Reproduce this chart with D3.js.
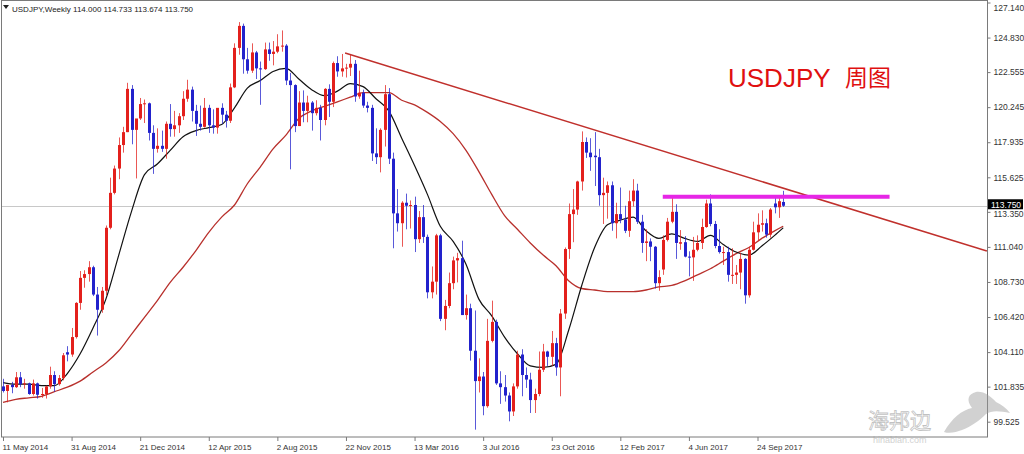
<!DOCTYPE html>
<html><head><meta charset="utf-8">
<script src="https://cdn.jsdelivr.net/npm/d3@7"></script>
<style>html,body{margin:0;padding:0;background:#fff;}svg{display:block;}</style>
</head><body>
<svg id="c" width="1024" height="454"></svg>
<script>
// ---------------- DATA ----------------
const symbolTitle = "USDJPY,Weekly";
const lastQuote = ["114.000","114.733","113.674","113.750"];
const chartLabel = "USDJPY";
const chartLabelCn = "周图";
const priceTicks = [127.140,124.830,122.555,120.245,117.935,115.625,113.350,111.040,108.730,106.420,104.110,101.835,99.525];
const dateTickWeeks = [0,16,32,48,64,80,96,112,128,144,160,176];
const dateTickLabels = ["11 May 2014","31 Aug 2014","21 Dec 2014","12 Apr 2015","2 Aug 2015","22 Nov 2015","13 Mar 2016","3 Jul 2016","23 Oct 2016","12 Feb 2017","4 Jun 2017","24 Sep 2017"];
// weekly candles [open, high, low, close], week 0 = 11 May 2014
const candles = [
[101.85,102.35,101.45,101.55],[101.55,101.95,100.80,101.95],[101.95,102.15,101.40,101.80],[101.80,102.80,101.75,102.45],
[102.45,102.80,101.80,102.00],[102.00,102.35,101.70,102.05],[102.05,102.10,101.30,101.35],[101.35,102.30,101.25,102.05],
[102.05,102.10,101.05,101.30],[101.30,101.75,101.10,101.35],[101.35,101.90,101.05,101.85],[101.85,103.15,101.70,102.60],
[102.60,102.85,101.50,102.00],[102.00,102.60,101.90,102.40],[102.40,104.05,102.25,103.90],[104.10,104.50,103.50,103.95],
[103.95,105.70,103.80,105.10],[105.10,107.40,105.00,107.35],[107.35,109.45,106.90,109.00],[109.00,109.50,108.35,109.25],
[109.25,110.10,108.75,109.70],[109.70,109.80,107.80,107.90],[107.90,108.40,105.20,106.90],[106.90,108.40,106.70,108.15],
[108.15,112.45,107.85,112.30],[112.30,115.60,112.20,114.60],[114.60,116.40,114.50,116.20],[116.20,118.25,115.50,117.75],
[117.75,118.95,117.25,118.60],[118.60,121.85,118.60,121.45],[121.45,121.70,117.80,118.75],[118.75,119.35,115.55,119.50],
[119.50,120.85,119.40,120.45],[120.45,120.75,119.20,120.50],
[120.50,120.55,118.05,118.55],[118.55,119.05,115.85,117.50],[117.50,118.85,117.25,117.70],[117.70,118.70,117.30,117.50],
[117.50,119.30,116.85,119.15],[119.15,120.45,118.30,118.80],[118.80,120.00,118.30,119.05],[119.05,119.85,118.55,119.65],
[119.65,121.30,119.40,120.80],[120.80,122.05,120.60,121.40],[121.40,121.60,119.30,120.00],[120.00,120.40,118.35,119.15],
[119.15,120.35,118.70,118.95],[118.95,120.85,118.90,120.20],[120.20,120.40,118.55,119.05],[119.05,120.10,118.50,118.90],
[118.90,120.10,118.50,120.20],[120.20,120.50,119.15,119.75],[119.75,120.00,118.90,119.35],[119.35,121.80,119.20,121.55],
[121.55,124.45,121.50,124.15],[124.15,125.85,123.70,125.60],[125.60,125.75,122.45,123.40],[123.40,124.15,122.45,122.65],
[122.65,124.45,122.50,123.85],[123.85,123.95,122.10,122.80],[122.80,123.25,120.40,122.75],[122.75,124.50,122.70,124.05],
[124.05,124.50,123.30,123.75],[123.75,124.60,123.00,123.90],[123.90,125.05,123.80,124.25],[124.25,125.30,123.90,124.30],
[124.30,124.40,121.70,122.00],[122.00,122.50,116.15,121.70],[121.70,121.75,118.60,119.00],[119.00,121.30,119.00,120.55],
[120.55,121.35,119.25,120.00],[120.00,121.00,119.25,120.55],[120.55,120.65,118.70,119.85],[119.85,120.70,119.70,120.20],
[120.20,120.40,118.05,119.40],[119.40,121.50,119.05,121.45],[121.45,121.75,119.60,120.60],[120.60,123.25,120.25,123.15],
[123.15,123.60,122.25,122.60],[122.60,123.75,122.25,122.80],[122.80,123.10,122.20,122.85],[122.85,123.70,122.30,123.10],
[123.10,123.35,120.60,120.95],[120.95,122.65,120.80,121.20],[121.20,121.40,120.20,120.35],[120.35,120.60,119.90,120.20],
[120.20,120.40,116.70,117.20],[117.20,118.85,116.50,116.95],[116.95,118.85,115.95,118.75],[118.75,121.70,117.65,121.10],
[121.10,121.50,116.50,116.85],[116.85,117.25,110.95,113.25],[113.25,114.85,112.05,112.60],[112.60,114.05,111.05,113.95],
[113.95,114.55,112.20,113.75],[113.75,114.10,112.25,113.80],[113.80,114.35,110.70,111.55],[111.55,113.40,111.30,113.00],
[113.00,113.80,111.30,111.70],[111.70,111.85,107.65,108.05],[108.05,109.75,107.65,108.75],[108.75,111.90,107.90,111.80],
[111.80,111.90,106.15,106.30],[106.30,107.55,105.55,107.15],[107.15,109.35,107.00,108.65],[108.65,110.40,108.25,110.15],
[110.15,110.65,108.70,110.30],[110.30,111.45,106.55,106.55],[106.55,107.90,106.25,107.00],[107.00,107.30,103.55,104.20],
[104.20,106.85,99.00,102.20],[102.20,103.70,101.45,102.50],[102.50,102.80,99.95,100.55],[100.55,106.30,100.45,104.85],
[104.85,107.50,104.75,106.10],[106.10,106.25,101.95,102.05],[102.05,102.85,100.70,101.80],[101.80,102.60,100.85,101.25],
[101.25,101.45,99.55,100.20],[100.20,102.05,99.90,101.85],[101.85,104.20,101.70,103.95],[103.95,104.30,101.20,102.60],
[102.60,103.10,101.75,102.30],[102.30,102.75,100.10,100.95],[100.95,101.70,100.10,101.35],[101.35,104.15,101.20,102.95],
[102.95,104.65,102.80,104.15],[104.15,104.20,103.20,103.80],[103.80,105.50,103.20,104.70],[104.70,105.05,102.55,103.10],
[103.10,106.95,101.20,106.65],[106.65,111.00,106.30,110.90],[110.90,113.90,110.25,113.20],[113.20,114.85,111.35,113.50],
[113.50,115.40,113.15,115.35],[115.35,118.65,114.75,117.95],[117.95,118.25,116.90,117.25],[117.25,118.20,116.05,116.95],
[117.05,118.60,115.05,116.95],[116.95,117.50,113.75,114.45],[114.45,115.60,112.55,114.60],[114.60,115.35,112.90,115.10],
[115.10,115.35,112.10,112.60],[112.60,113.95,111.60,113.20],[113.20,114.95,112.60,112.85],[112.85,113.75,111.95,112.10],
[112.10,114.75,111.70,114.05],[114.05,115.50,113.70,114.75],[114.75,115.20,112.55,112.70],[112.70,113.15,110.65,111.30],
[111.30,112.20,110.10,111.40],[111.40,111.60,110.10,111.05],[111.05,111.10,108.30,108.65],[108.65,109.50,108.15,109.05],
[109.55,111.80,109.20,111.50],[111.50,112.95,111.40,112.70],[112.70,114.35,112.60,113.35],[113.35,113.85,110.25,111.30],
[111.25,112.15,110.85,111.35],[111.35,111.75,110.35,110.40],[110.40,110.75,109.10,110.35],[110.35,111.70,108.80,110.85],
[110.85,111.80,110.75,111.30],[111.30,112.90,110.90,112.35],[112.35,114.15,112.30,113.90],[113.90,114.50,112.40,112.55],
[112.55,112.75,110.95,111.10],[111.10,112.20,110.60,110.70],[110.65,111.05,109.85,110.70],[110.70,111.05,108.75,109.20],
[109.15,110.95,108.60,109.20],[109.20,109.85,108.60,109.35],[109.35,110.65,108.25,110.25],[110.25,110.30,107.30,107.85],
[107.85,111.05,107.70,110.85],[110.85,112.70,110.80,112.00],[112.00,113.25,111.45,112.50],[112.50,113.45,112.05,112.60],
[112.60,112.90,111.65,111.85],[111.85,113.60,111.65,113.50],[113.90,114.45,113.25,113.65],[113.65,114.30,112.95,114.05],
[114.000,114.733,113.674,113.750]
];
const maWeeks = [0,3,6,9,12,15,18,21,24,27,30,33,36,39,42,45,48,51,54,57,60,63,66,69,72,75,78,81,84,87,90,93,96,99,102,105,108,111,114,117,120,123,126,129,132,135,138,141,144,147,150,153,156,159,162,165,168,171,174,177,180,182];
const maFast = [102.1,102.0,102.0,101.9,101.9,102.7,104.0,105.7,107.6,110.5,113.4,115.8,116.5,117.4,118.3,118.7,118.9,119.1,120.2,121.5,122.0,122.6,122.8,122.1,121.4,121.0,121.3,121.8,121.6,120.8,120.0,118.2,116.4,114.5,112.4,111.4,109.9,107.6,106.5,105.1,104.0,103.2,103.1,103.3,105.6,108.5,111.0,112.5,112.8,113.0,112.1,111.6,111.9,111.6,111.4,111.8,111.2,110.7,110.5,111.1,111.8,112.3];
const maSlow = [100.8,101.0,101.1,101.2,101.5,101.8,102.2,102.8,103.4,104.2,105.3,106.4,107.5,108.7,109.7,110.8,112.0,113.0,113.8,115.2,116.3,117.5,118.4,119.5,120.0,120.3,120.6,120.9,121.2,121.2,121.2,120.7,120.4,119.9,119.3,118.5,117.4,116.0,114.5,113.1,112.2,111.3,110.5,109.8,108.8,108.3,108.2,108.1,108.1,108.1,108.2,108.4,108.5,108.8,109.2,109.6,110.1,110.6,111.0,111.6,112.1,112.4];
// drawn objects
const trendWeeks = [79.8, 229.5];
const trendPrices = [123.81, 110.77];
const resistWeeks = [153.9, 206.8];
const resistPrice = 114.35;
const lastPrice = 113.750;

// ---------------- LAYOUT ----------------
const svg = d3.select("#c");
const PL = 1, PR = 987, PT = 0, PB = 437;
const x = d3.scaleLinear().domain([0, 176]).range([3, 3 + 176 * 4.287]);
const y = d3.scaleLinear().domain([99.525, 127.14]).range([421.7, 2.5]);
const FONT = "'Liberation Sans', Arial, sans-serif";
const UP = "#e3201c", DOWN = "#2222cc";

svg.append("rect").attr("width",1024).attr("height",454).attr("fill","#fff");
svg.append("defs").append("clipPath").attr("id","plotclip")
  .append("rect").attr("x",PL).attr("y",PT).attr("width",PR-PL).attr("height",PB-PT);
const plot = svg.append("g").attr("clip-path","url(#plotclip)");

// current price line
plot.append("line").attr("x1",PL).attr("x2",PR)
  .attr("y1",Math.round(y(lastPrice))+0.5).attr("y2",Math.round(y(lastPrice))+0.5)
  .attr("stroke","#c8c8c8").attr("stroke-width",1);

// moving averages
const maLine = d3.line().x(d=>x(d[0])).y(d=>y(d[1])).curve(d3.curveMonotoneX);
plot.append("path").datum(maWeeks.map((w,k)=>[w,maSlow[k]]))
  .attr("d",maLine).attr("fill","none").attr("stroke","#b8302c").attr("stroke-width",1.3);
plot.append("path").datum(maWeeks.map((w,k)=>[w,maFast[k]]))
  .attr("d",maLine).attr("fill","none").attr("stroke","#111").attr("stroke-width",1.2);

// candles
const cg = plot.append("g");
const cx = i => Math.round(x(i));
cg.selectAll("line.w").data(candles).join("line")
  .attr("x1",(d,i)=>cx(i)+0.5).attr("x2",(d,i)=>cx(i)+0.5)
  .attr("y1",d=>y(d[1])).attr("y2",d=>y(d[2]))
  .attr("stroke",d=>d[3]>=d[0]?UP:DOWN).attr("stroke-opacity",0.75).attr("stroke-width",1);
cg.selectAll("rect.b").data(candles).join("rect")
  .attr("x",(d,i)=>cx(i)-1).attr("width",3)
  .attr("y",d=>y(Math.max(d[0],d[3])))
  .attr("height",d=>Math.max(1,Math.abs(y(d[0])-y(d[3]))))
  .attr("fill",d=>d[3]>=d[0]?UP:DOWN);

// trend line
plot.append("line")
  .attr("x1",x(trendWeeks[0])).attr("y1",y(trendPrices[0]))
  .attr("x2",x(trendWeeks[1])).attr("y2",y(trendPrices[1]))
  .attr("stroke","#c0302c").attr("stroke-width",1.5);

// resistance line
plot.append("line")
  .attr("x1",x(resistWeeks[0])).attr("x2",x(resistWeeks[1]))
  .attr("y1",y(resistPrice)).attr("y2",y(resistPrice))
  .attr("stroke","#e626e6").attr("stroke-width",4);

// title label
svg.append("text").attr("x",728).attr("y",87).text(chartLabel)
  .attr("font-family",FONT).attr("font-size",26).attr("fill","#e01010");
svg.append("text").attr("x",845).attr("y",86).text(chartLabelCn)
  .attr("font-family","'Noto Sans CJK SC', sans-serif").attr("font-size",23).attr("fill","#e01010");

// header
svg.append("path").attr("d","M3,5 L9,5 L6,9 Z").attr("fill","#222");
svg.append("text").attr("x",12).attr("y",11.5)
  .text(symbolTitle + "  " + lastQuote.join(" "))
  .attr("font-family",FONT).attr("font-size",8).attr("fill","#222");

// frame
svg.append("rect").attr("x",PL+0.5).attr("y",PT+0.5).attr("width",PR-PL).attr("height",PB-PT-0.5)
  .attr("fill","none").attr("stroke","#7a7a7a").attr("stroke-width",1);

// right price axis
const ya = d3.axisRight(y).tickValues(priceTicks).tickFormat(d3.format(".3f")).tickSize(3).tickPadding(3);
const yg = svg.append("g").attr("transform",`translate(${PR+0.5},0)`).call(ya);
yg.select(".domain").remove();
yg.selectAll("line").attr("stroke","#7a7a7a");
yg.selectAll("text").attr("font-family",FONT).attr("font-size",8.5).attr("fill","#333")
  .attr("dy",(d)=> d===127.14 ? "0.95em" : (d===113.35 ? "0.5em" : "0.32em"));

// bottom time axis
const xa = d3.axisBottom(x).tickValues(dateTickWeeks).tickFormat((d,k)=>dateTickLabels[k]).tickSize(4).tickPadding(3);
const xg = svg.append("g").attr("transform",`translate(0,${PB})`).call(xa);
xg.select(".domain").remove();
xg.selectAll("line").attr("stroke","#7a7a7a");
xg.selectAll("text").attr("font-family",FONT).attr("font-size",8).attr("fill","#333")
  .attr("text-anchor","start").attr("dx",-1);

// last price label
const ly = y(lastPrice);
svg.append("rect").attr("x",PR+1).attr("y",ly-6.5).attr("width",35).attr("height",10).attr("fill","#000");
svg.append("text").attr("x",PR+4).attr("y",ly+2).text(d3.format(".3f")(lastPrice))
  .attr("font-family",FONT).attr("font-size",8.5).attr("fill","#fff");

// watermark
const wm = svg.append("g").attr("opacity",0.45);
wm.append("text").attr("x",868).attr("y",428).text("海邦边")
  .attr("font-family","'Noto Sans CJK SC', sans-serif").attr("font-size",21).attr("fill","none")
  .attr("stroke","#777").attr("stroke-width",0.8);
wm.append("text").attr("x",873).attr("y",443).text("hinabian.com")
  .attr("font-family",FONT).attr("font-size",9).attr("fill","#999");
wm.append("path")
  .attr("d","M944,432 C952,418 962,410 972,408 C966,400 968,394 976,392 C984,391 990,396 996,402 C1002,405 1006,408 1010,413 C1000,411 992,410 986,414 C980,420 972,426 962,430 C956,432 950,434 944,432 Z")
  .attr("fill","#9a9a9a");
</script>
</body></html>
